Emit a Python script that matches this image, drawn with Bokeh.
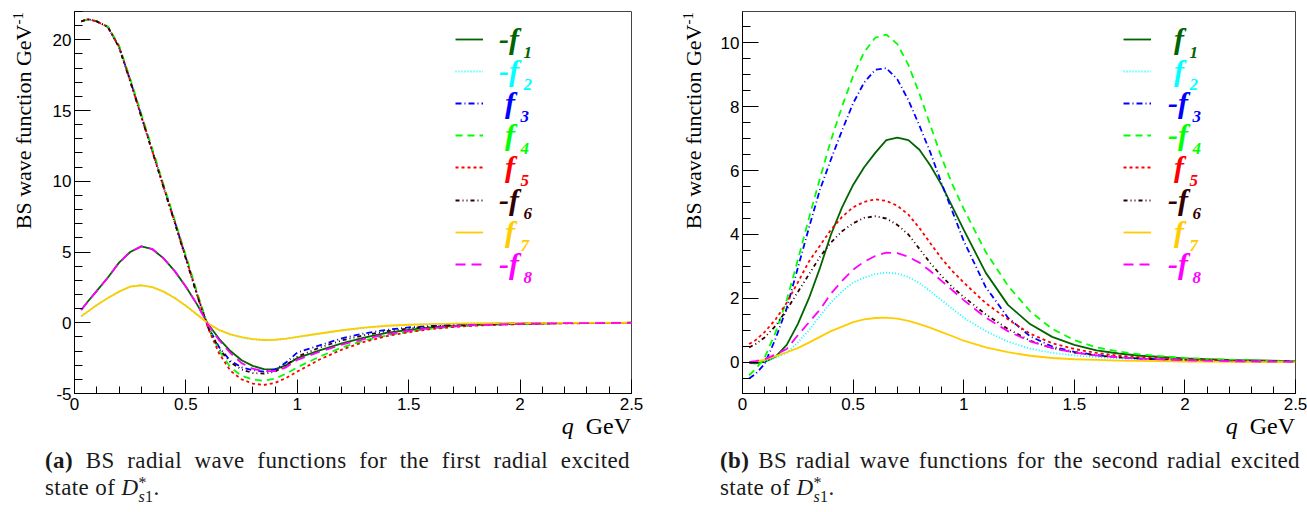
from bokeh.plotting import figure
from bokeh.models import (Label, Legend, LegendItem, SingleIntervalTicker,
                          NumeralTickFormatter, Range1d, Div)
from bokeh.layouts import row, column
from bokeh.embed import file_html
from bokeh.resources import INLINE

# ---------------- data ----------------
q = [0.03, 0.06, 0.1, 0.15, 0.2, 0.25, 0.3, 0.35, 0.4, 0.45, 0.5, 0.55,
     0.6, 0.65, 0.7, 0.75, 0.8, 0.85, 0.9, 0.95, 1.0,
     1.1, 1.2, 1.3, 1.4, 1.5, 1.6, 1.7, 1.8, 2.0, 2.2, 2.5]

# (a) first radial excited state
a_f1 = [0.9, 1.5, 2.25, 3.2, 4.25, 5.0, 5.4, 5.2, 4.55, 3.65, 2.55, 1.3,
        -0.1, -1.15, -2.0, -2.65, -3.05, -3.28, -3.3, -3.0, -2.5,
        -1.95, -1.45, -1.05, -0.72, -0.5, -0.33, -0.22, -0.15, -0.07, -0.03, -0.01]
a_f2 = [0.45, 0.8, 1.25, 1.75, 2.2, 2.55, 2.65, 2.52, 2.2, 1.75, 1.2, 0.58,
        -0.05, -0.53, -0.84, -1.04, -1.17, -1.24, -1.22, -1.13, -1.02,
        -0.78, -0.55, -0.37, -0.22, -0.15, -0.1, -0.07, -0.05, -0.02, -0.01, 0.0]
a_f3 = [21.3, 21.45, 21.3, 20.9, 19.5, 17.15, 14.65, 12.15, 9.65, 7.15, 4.6, 2.05,
        -0.3, -1.75, -2.7, -3.15, -3.35, -3.45, -3.3, -2.8, -2.1,
        -1.6, -1.1, -0.75, -0.5, -0.33, -0.22, -0.14, -0.09, -0.04, -0.015, 0.0]
a_f4 = [21.3, 21.45, 21.3, 20.95, 19.6, 17.25, 14.75, 12.25, 9.75, 7.25, 4.75, 2.15,
        -0.3, -2.0, -3.15, -3.75, -4.0, -4.1, -3.95, -3.6, -3.15,
        -2.4, -1.75, -1.25, -0.9, -0.62, -0.42, -0.28, -0.18, -0.08, -0.03, -0.01]
a_f5 = [21.3, 21.45, 21.3, 20.9, 19.5, 17.1, 14.6, 12.1, 9.6, 7.1, 4.6, 2.0,
        -0.4, -2.2, -3.4, -4.0, -4.3, -4.4, -4.25, -3.9, -3.45,
        -2.6, -1.9, -1.35, -0.95, -0.66, -0.45, -0.3, -0.2, -0.09, -0.04, -0.01]
a_f6 = [21.3, 21.45, 21.3, 20.9, 19.45, 17.05, 14.55, 12.05, 9.55, 7.05, 4.5, 1.95,
        -0.35, -1.85, -2.8, -3.3, -3.55, -3.6, -3.45, -3.0, -2.4,
        -1.75, -1.25, -0.88, -0.6, -0.4, -0.27, -0.18, -0.12, -0.05, -0.02, 0.0]
a_f7 = [0.45, 0.8, 1.25, 1.75, 2.2, 2.55, 2.65, 2.52, 2.2, 1.75, 1.2, 0.58,
        -0.05, -0.52, -0.82, -1.02, -1.15, -1.22, -1.2, -1.12, -1.0,
        -0.76, -0.53, -0.35, -0.21, -0.14, -0.09, -0.06, -0.04, -0.02, -0.01, 0.0]
a_f8 = [0.9, 1.5, 2.25, 3.2, 4.25, 5.0, 5.4, 5.2, 4.55, 3.65, 2.55, 1.3,
        -0.15, -1.25, -2.15, -2.85, -3.25, -3.42, -3.42, -3.15, -2.62,
        -2.05, -1.55, -1.15, -0.82, -0.57, -0.38, -0.25, -0.17, -0.08, -0.03, -0.01]

# (b) second radial excited state
b_f1 = [-0.02, -0.03, 0.02, 0.18, 0.55, 1.2, 2.0, 2.95, 4.0, 4.85, 5.55, 6.1,
        6.55, 6.95, 7.03, 6.95, 6.65, 6.15, 5.55, 4.85, 4.15,
        2.8, 1.8, 1.2, 0.8, 0.55, 0.38, 0.28, 0.21, 0.13, 0.08, 0.04]
b_f2 = [0.0, 0.0, 0.03, 0.15, 0.3, 0.62, 1.0, 1.45, 1.88, 2.22, 2.5, 2.65,
        2.76, 2.81, 2.78, 2.67, 2.48, 2.22, 1.95, 1.67, 1.4,
        0.98, 0.65, 0.43, 0.3, 0.22, 0.17, 0.13, 0.1, 0.06, 0.04, 0.02]
b_f3 = [-0.5, -0.35, -0.05, 0.75, 1.7, 2.95, 4.2, 5.4, 6.35, 7.25, 8.1, 8.75,
        9.15, 9.2, 8.85, 8.2, 7.4, 6.55, 5.6, 4.7, 3.8,
        2.35, 1.4, 0.82, 0.5, 0.33, 0.23, 0.17, 0.12, 0.07, 0.04, 0.02]
b_f4 = [-0.4, -0.2, 0.15, 0.95, 1.95, 3.2, 4.5, 5.75, 6.95, 8.0, 8.95, 9.7,
        10.15, 10.25, 9.95, 9.3, 8.4, 7.4, 6.4, 5.55, 4.8,
        3.45, 2.4, 1.6, 1.05, 0.7, 0.47, 0.34, 0.25, 0.14, 0.08, 0.03]
b_f5 = [0.58, 0.7, 0.95, 1.35, 1.87, 2.5, 3.15, 3.65, 4.15, 4.55, 4.85, 5.02,
        5.1, 5.05, 4.9, 4.62, 4.2, 3.72, 3.25, 2.85, 2.5,
        1.85, 1.35, 0.9, 0.6, 0.42, 0.3, 0.21, 0.16, 0.09, 0.05, 0.02]
b_f6 = [0.47, 0.58, 0.78, 1.15, 1.65, 2.2, 2.75, 3.3, 3.75, 4.1, 4.35, 4.52,
        4.57, 4.5, 4.3, 4.0, 3.55, 3.1, 2.7, 2.35, 2.05,
        1.5, 1.05, 0.68, 0.45, 0.31, 0.22, 0.16, 0.12, 0.07, 0.04, 0.02]
b_f7 = [0.0, 0.03, 0.08, 0.2, 0.32, 0.45, 0.62, 0.8, 0.98, 1.12, 1.26, 1.35,
        1.39, 1.4, 1.37, 1.3, 1.2, 1.08, 0.95, 0.82, 0.68,
        0.47, 0.32, 0.21, 0.14, 0.1, 0.08, 0.06, 0.05, 0.03, 0.02, 0.01]
b_f8 = [0.02, 0.04, 0.1, 0.25, 0.42, 0.85, 1.25, 1.65, 2.15, 2.55, 2.9, 3.15,
        3.33, 3.43, 3.42, 3.3, 3.12, 2.85, 2.55, 2.25, 1.95,
        1.4, 0.98, 0.66, 0.45, 0.31, 0.22, 0.16, 0.12, 0.07, 0.04, 0.02]

series_a = [a_f1, a_f2, a_f3, a_f4, a_f5, a_f6, a_f7, a_f8]
series_b = [b_f1, b_f2, b_f3, b_f4, b_f5, b_f6, b_f7, b_f8]
signs_a = ["-", "-", "", "", "", "-", "", "-"]
signs_b = ["", "", "-", "-", "", "-", "", "-"]
subscripts = ["1", "2", "3", "4", "5", "6", "7", "8"]

colors = ["#006400", "#00ffff", "#0000ff", "#00ff00", "#ff0000", "#330000", "#ffcc00", "#ff00ff"]
dashes = ["solid", "1 2", "6 3 1 3", "7 5", "3 3", "4 3 1 3 1 3", "solid", "10 6"]

y_title = "BS wave function GeV"
y_title_sup = "-1"
x_title_var = "q"
x_title_unit = "GeV"

captions = [
    ("(a)", "BS radial wave functions for the first radial excited"),
    ("(b)", "BS radial wave functions for the second radial excited"),
]

SERIF = "Liberation Serif"
SANS = "Liberation Sans"

FRAME_H = 382
TOP = 11
BOTTOM = 26
FB = 393  # page y of the frame bottom
FIG_H = TOP + FRAME_H + BOTTOM


def make_panel(series, signs, yr, y_int, y_minor, width, b_left, frame_w,
               leg_x, standoff):
    b_right = width - b_left - frame_w
    p = figure(width=width, height=FIG_H,
               x_range=Range1d(0, 2.5), y_range=Range1d(*yr),
               min_border_left=b_left, min_border_right=b_right,
               min_border_top=TOP, min_border_bottom=BOTTOM,
               toolbar_location=None, output_backend="svg", title=None)
    p.xgrid.visible = False
    p.ygrid.visible = False
    p.outline_line_color = "#444444"
    p.outline_line_width = 1
    p.background_fill_color = "white"
    p.border_fill_color = "white"

    xa = p.xaxis[0]
    xa.ticker = SingleIntervalTicker(interval=0.5, num_minor_ticks=5)
    xa.formatter = NumeralTickFormatter(format="0.[0]")
    ya = p.yaxis[0]
    ya.ticker = SingleIntervalTicker(interval=y_int, num_minor_ticks=y_minor)
    ya.formatter = NumeralTickFormatter(format="0.[0]")
    for ax, mj, mn, so in ((xa, 14, 7, 4), (ya, 16, 8, 3)):
        ax.major_tick_in = mj
        ax.major_tick_out = 0
        ax.minor_tick_in = mn
        ax.minor_tick_out = 0
        ax.axis_line_color = "black"
        ax.major_tick_line_color = "black"
        ax.minor_tick_line_color = "black"
        ax.major_label_text_font = SANS
        ax.major_label_text_font_size = "17px"
        ax.major_label_text_color = "black"
        ax.major_label_standoff = so

    for i, ys in enumerate(series):
        r = p.line(q, ys, line_color=colors[i], line_dash=dashes[i], line_width=1.8)
        center = 40 + 32.1 * i
        lg = Legend(items=[LegendItem(label=signs[i] + "f", renderers=[r])],
                    location=(leg_x, FB - (center + 16)),
                    glyph_width=28, glyph_height=32, label_height=32,
                    label_width=10, spacing=0, padding=0, margin=0,
                    label_standoff=standoff - (6 if signs[i] else 0),
                    border_line_color=None, background_fill_alpha=0,
                    label_text_font=SERIF, label_text_font_style="bold italic",
                    label_text_font_size="30px", label_text_color=colors[i])
        p.add_layout(lg)
        p.add_layout(Label(x=leg_x + 28 + standoff + 15 + (3 if signs[i] else 0),
                           y=FB - (center + 12),
                           x_units="screen", y_units="screen",
                           text=subscripts[i], text_color=colors[i],
                           text_font=SERIF, text_font_style="bold italic",
                           text_font_size="17px", text_align="left",
                           text_baseline="alphabetic"))
    return p


def make_ytitle(width, tx):
    html = (
        "<div style=\"width:380px;height:24px;line-height:24px;text-align:right;"
        "white-space:nowrap;font-family:'Liberation Serif',serif;font-size:22px;"
        f"color:black;transform-origin:0 0;transform:translate({tx}px,392px) rotate(-90deg);\">"
        f"{y_title}<span style=\"font-size:15px;vertical-align:8px;line-height:0;\">"
        f"{y_title_sup}</span></div>"
    )
    return Div(text=html, width=width, height=FIG_H, margin=0)


def make_caption(tag, line1, col_w, cap_left, cap_w, q_right):
    html = (
        f"<div style=\"position:relative;width:{col_w}px;height:90px;"
        "font-family:'Liberation Serif',serif;color:#1a1a1a;\">"
        f"<div style=\"position:absolute;top:1px;right:{q_right}px;font-size:24px;"
        "line-height:12px;white-space:nowrap;color:black;\">"
        f"<i>{x_title_var}</i>&nbsp;&nbsp;{x_title_unit}</div>"
        f"<div style=\"position:absolute;top:28px;left:{cap_left}px;width:{cap_w}px;"
        "font-size:23px;line-height:27px;letter-spacing:0.4px;text-align:justify;"
        "text-align-last:justify;\">"
        f"<b>{tag}</b> {line1}</div>"
        f"<div style=\"position:absolute;top:55px;left:{cap_left}px;font-size:23px;"
        "line-height:27px;letter-spacing:0.4px;white-space:nowrap;\">state of <i>D</i>"
        "<span style=\"display:inline-block;vertical-align:-0.45em;line-height:0.9em;"
        "font-size:16px;text-align:left;\">*<br><i>s</i>1</span>.</div>"
        "</div>"
    )
    return Div(text=html, width=col_w, height=90, margin=0)


# left panel: page x 0..658 ; frame 74..631
p1 = make_panel(series_a, signs_a, (-5, 22), 5, 5, 618, 34, 557,
                leg_x=381, standoff=22)
# right panel: page x 658..1307 ; frame 742..1295
p2 = make_panel(series_b, signs_b, (-0.97, 10.97), 2, 4, 595, 30, 553,
                leg_x=381, standoff=23)

yt1 = make_ytitle(40, 12)
yt2 = make_ytitle(54, 24)

c1 = make_caption(*captions[0], col_w=658, cap_left=45, cap_w=585, q_right=27)
c2 = make_caption(*captions[1], col_w=649, cap_left=62, cap_w=580, q_right=12)

layout = row(column(row(yt1, p1), c1), column(row(yt2, p2), c2))
open("out.html", "w").write(file_html(layout, INLINE))
